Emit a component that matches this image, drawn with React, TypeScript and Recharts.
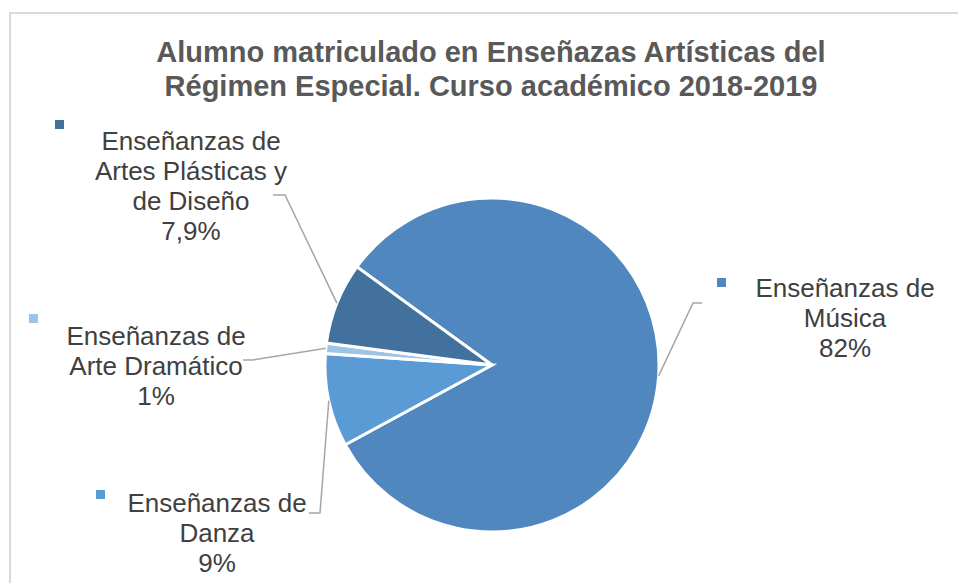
import { PieChart, Pie, Cell } from 'recharts'

const CATEGORIES = [
  'Enseñanzas de Música',
  'Enseñanzas de Danza',
  'Enseñanzas de Arte Dramático',
  'Enseñanzas de Artes Plásticas y de Diseño',
]
const VALUES = [82, 9, 1, 7.9]
const PCT_LABELS = ['82%', '9%', '1%', '7,9%']
const LABEL_LINES = [
  ['Enseñanzas de', 'Música'],
  ['Enseñanzas de', 'Danza'],
  ['Enseñanzas de', 'Arte Dramático'],
  ['Enseñanzas de', 'Artes Plásticas y', 'de Diseño'],
]
const COLORS = ['#4f87be', '#5b9bd5', '#9dc3e6', '#41719c']

const data = CATEGORIES.map((name, i) => ({ name, value: VALUES[i] }))

// where Excel put each data label (text centre, first baseline, leader elbow/end, legend key)
const LAYOUT = [
  { tx: 845, ty: 297, elbow: [693, 303], end: [702, 303], key: [717, 278] },
  { tx: 217, ty: 512, elbow: [320, 513], end: [309, 513], key: [96, 490] },
  { tx: 156, ty: 345, elbow: [253, 360], end: [243, 360], key: [29, 314] },
  { tx: 191, ty: 150, elbow: [285, 195], end: [273, 195], key: [55, 120] },
]

const RAD = Math.PI / 180
const FONT = '"Liberation Sans", Arial, sans-serif'

function renderLabel(props: any) {
  const { cx, cy, midAngle, outerRadius, index } = props
  const l = LAYOUT[index]
  const sx = cx + outerRadius * Math.cos(-midAngle * RAD)
  const sy = cy + outerRadius * Math.sin(-midAngle * RAD)
  const lines = [...LABEL_LINES[index], PCT_LABELS[index]]
  return (
    <g key={`lbl-${index}`}>
      <polyline
        points={`${sx},${sy} ${l.elbow[0]},${l.elbow[1]} ${l.end[0]},${l.end[1]}`}
        fill="none"
        stroke="#a6a6a6"
        strokeWidth={1.5}
      />
      <rect x={l.key[0]} y={l.key[1]} width={9} height={9} fill={COLORS[index]} />
      <text x={l.tx} y={l.ty} textAnchor="middle" fill="#404040" fontSize={26} fontFamily={FONT}>
        {lines.map((t, i) => (
          <tspan key={i} x={l.tx} dy={i === 0 ? 0 : 30}>{t}</tspan>
        ))}
      </text>
    </g>
  )
}

export default function App() {
  return (
    <div style={{ position: 'absolute', left: 0, top: 0, width: 958, height: 583, overflow: 'hidden', background: '#fff' }}>
      <div style={{ position: 'absolute', left: 9, top: 12, width: 1000, height: 1000, border: '2px solid #d9d9d9' }} />
      <PieChart
        width={958}
        height={583}
        margin={{ top: 0, right: 0, bottom: 0, left: 0 }}
        style={{ position: 'absolute', left: 0, top: 0 }}
      >
        <text x={491} y={62} textAnchor="middle" fill="#595959" fontSize={29} fontWeight="bold" fontFamily={FONT}>
          Alumno matriculado en Enseñazas Artísticas del
        </text>
        <text x={491} y={96} textAnchor="middle" fill="#595959" fontSize={29} fontWeight="bold" fontFamily={FONT}>
          Régimen Especial. Curso académico 2018-2019
        </text>
        <Pie
          data={data}
          dataKey="value"
          nameKey="name"
          cx={492}
          cy={365}
          outerRadius={167}
          startAngle={144}
          endAngle={-216}
          stroke="#fff"
          strokeWidth={3}
          label={renderLabel}
          labelLine={false}
          isAnimationActive={false}
        >
          {data.map((d, i) => (
            <Cell key={d.name} fill={COLORS[i]} />
          ))}
        </Pie>
      </PieChart>
    </div>
  )
}
